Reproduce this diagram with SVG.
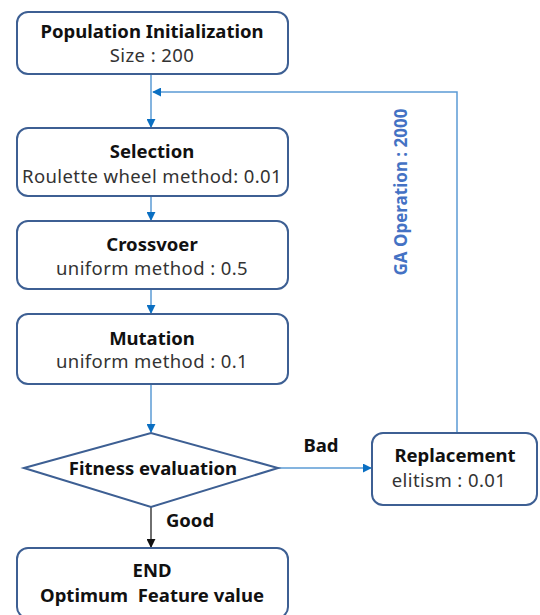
<svg xmlns="http://www.w3.org/2000/svg" width="540" height="615" viewBox="0 0 540 615">
<defs>
<style>
.box{fill:#fff;stroke:#3d5f93;stroke-width:2}
.t{font-family:"Noto Sans","Open Sans",sans-serif;font-size:18.5px;font-weight:bold;fill:#111;text-anchor:middle}
.s{font-family:"Noto Sans","Open Sans",sans-serif;font-size:18.5px;letter-spacing:0.4px;fill:#333;text-anchor:middle}
.c{fill:none;stroke:#5b9bd5;stroke-width:1.5}
.k{fill:none;stroke:#222;stroke-width:1.3}
</style>
<marker id="ab" viewBox="0 0 10 10" refX="9" refY="5" markerWidth="9" markerHeight="9" markerUnits="userSpaceOnUse" orient="auto"><path d="M0,0 L10,5 L0,10 z" fill="#0a6fc2"/></marker>
<marker id="ak" viewBox="0 0 10 10" refX="9" refY="5" markerWidth="9" markerHeight="9" markerUnits="userSpaceOnUse" orient="auto"><path d="M0,0 L10,5 L0,10 z" fill="#111"/></marker>
</defs>
<rect width="540" height="615" fill="#fff"/>
<g id="connectors">
<line class="c" x1="151" y1="74" x2="151" y2="127" marker-end="url(#ab)"/>
<line class="c" x1="151" y1="196" x2="151" y2="220" marker-end="url(#ab)"/>
<line class="c" x1="151" y1="289" x2="151" y2="313" marker-end="url(#ab)"/>
<line class="c" x1="151" y1="384" x2="151" y2="432" marker-end="url(#ab)"/>
<line class="c" x1="278" y1="468" x2="371" y2="468" marker-end="url(#ab)"/>
<polyline class="c" points="457,433 457,92 153,92" marker-end="url(#ab)"/>
<line class="k" x1="151" y1="507" x2="151" y2="547" marker-end="url(#ak)"/>
<text x="321" y="452" class="t">Bad</text>
<text x="190" y="527" class="t">Good</text>
<text transform="translate(407,192) rotate(-90)" class="t" style="fill:#4472c4;font-size:17px">GA Operation : 2000</text>
</g>
<g id="init"><rect class="box" x="17" y="12" width="271" height="62" rx="11"/><text x="152" y="38" class="t">Population Initialization</text><text x="152" y="62" class="s" xml:space="preserve">Size : 200</text></g>
<g id="selection"><rect class="box" x="17" y="128" width="271" height="68" rx="11"/><text x="152" y="158" class="t">Selection</text><text x="152" y="183" class="s">Roulette wheel method: 0.01</text></g>
<g id="crossover"><rect class="box" x="17" y="221" width="271" height="68" rx="11"/><text x="152" y="251" class="t">Crossvoer</text><text x="152" y="275" class="s">uniform method : 0.5</text></g>
<g id="mutation"><rect class="box" x="17" y="314" width="271" height="70" rx="11"/><text x="152" y="345" class="t">Mutation</text><text x="152" y="368" class="s">uniform method : 0.1</text></g>
<g id="fitness"><polygon class="box" points="24,468 151,433 278,468 151,507"/><text x="153" y="475" class="t">Fitness evaluation</text></g>
<g id="replacement"><rect class="box" x="372" y="433" width="165" height="72" rx="11"/><text x="455" y="462" class="t">Replacement</text><text x="449" y="487" class="s">elitism : 0.01</text></g>
<g id="end"><rect class="box" x="17" y="548" width="271" height="70" rx="11"/><text x="152" y="577" class="t">END</text><text x="152" y="602" class="t" xml:space="preserve">Optimum  Feature value</text></g>
</svg>
